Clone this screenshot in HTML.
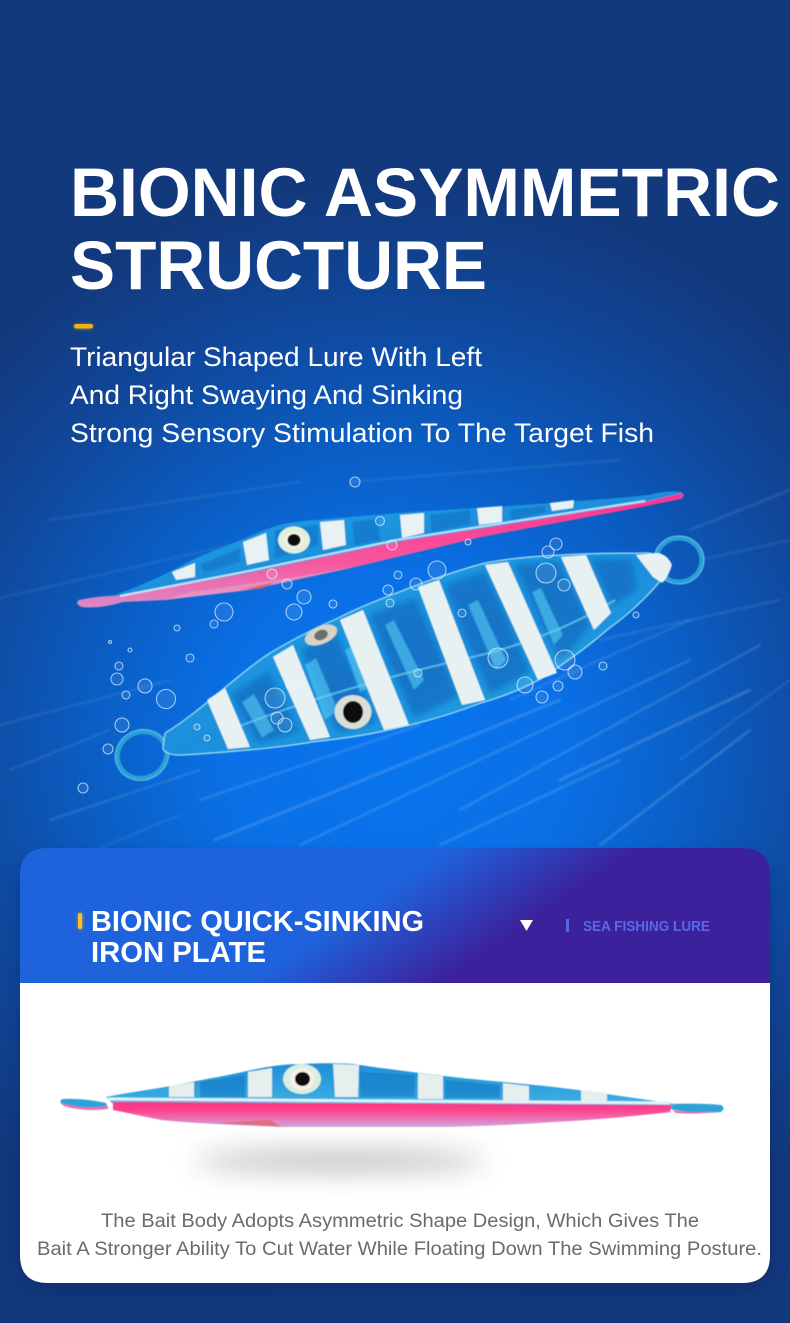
<!DOCTYPE html>
<html><head><meta charset="utf-8"><style>
html,body{margin:0;padding:0;width:790px;height:1323px;overflow:hidden;background:#13397d}
svg{display:block}
text{font-family:"Liberation Sans",sans-serif}
</style></head><body>
<svg xmlns="http://www.w3.org/2000/svg" width="790" height="1323" viewBox="0 0 790 1323">
<defs>
<radialGradient id="bg2" gradientUnits="userSpaceOnUse" cx="0" cy="0" r="1" gradientTransform="translate(395 745) scale(570 560)">
<stop offset="0" stop-color="#0875ee"/><stop offset=".3" stop-color="#0a70e6"/><stop offset=".52" stop-color="#0a5fc6"/><stop offset=".78" stop-color="#10479a"/><stop offset="1" stop-color="#13397d"/></radialGradient>
<linearGradient id="hdr" gradientUnits="userSpaceOnUse" x1="350" y1="915" x2="409" y2="1003">
<stop offset="0" stop-color="#1e63dc"/><stop offset="1" stop-color="#3b229c"/></linearGradient>
<linearGradient id="bodyB" x1="0" y1="0" x2="1" y2="1">
<stop offset="0" stop-color="#22a8e6"/><stop offset=".5" stop-color="#1a8fdc"/><stop offset="1" stop-color="#2aaae2"/></linearGradient>
<linearGradient id="bodyC" x1="0" y1="0" x2="0" y2="1">
<stop offset="0" stop-color="#1f8fd6"/><stop offset="1" stop-color="#3fb2e4"/></linearGradient>
<linearGradient id="pinkT" x1="0" y1="0" x2="0" y2="1">
<stop offset="0" stop-color="#ff2f8e"/><stop offset=".6" stop-color="#f8569e"/><stop offset="1" stop-color="#d98bc8"/></linearGradient>
<linearGradient id="pinkC" x1="0" y1="0" x2="0" y2="1">
<stop offset="0" stop-color="#ff2f84"/><stop offset=".4" stop-color="#fb4a92"/><stop offset="1" stop-color="#cfa8e0"/></linearGradient>
<filter id="b1" x="-20%" y="-300%" width="140%" height="700%"><feGaussianBlur stdDeviation="1"/></filter>
<filter id="b05" x="-5%" y="-5%" width="110%" height="110%"><feGaussianBlur stdDeviation=".6"/></filter>
<filter id="b3" x="-20%" y="-20%" width="140%" height="140%"><feGaussianBlur stdDeviation="3"/></filter>
<filter id="b8" x="-40%" y="-300%" width="180%" height="700%"><feGaussianBlur stdDeviation="13"/></filter>
<filter id="bs" x="-10%" y="-10%" width="120%" height="125%"><feGaussianBlur stdDeviation="9"/></filter>
<filter id="glow" x="-50%" y="-100%" width="200%" height="300%"><feGaussianBlur stdDeviation="1.5"/></filter>
</defs>

<rect width="790" height="1323" fill="url(#bg2)"/>

<g stroke="#fff" fill="none" filter="url(#b1)" stroke-linecap="round">
<path d="M0 598 L330 522" stroke-width="2.500" opacity=".08"/>
<path d="M50 520 L300 482" stroke-width="2.500" opacity=".08"/>
<path d="M350 482 L620 460" stroke-width="2.500" opacity=".08"/>
<path d="M690 530 L790 490" stroke-width="2.500" opacity=".11"/>
<path d="M700 560 L790 540" stroke-width="2" opacity=".1"/>
<path d="M0 725 L170 680" stroke-width="2" opacity=".1"/>
<path d="M10 770 L110 730" stroke-width="2" opacity=".12"/>
<path d="M50 820 L200 770" stroke-width="2" opacity=".14"/>
<path d="M200 800 L420 725" stroke-width="2" opacity=".16"/>
<path d="M215 840 L560 700" stroke-width="2.500" opacity=".18"/>
<path d="M300 845 L690 660" stroke-width="2" opacity=".18"/>
<path d="M460 810 L760 645" stroke-width="2" opacity=".18"/>
<path d="M510 700 L690 620" stroke-width="2" opacity=".14"/>
<path d="M440 845 L620 760" stroke-width="2" opacity=".18"/>
<path d="M560 780 L750 690" stroke-width="2.500" opacity=".2"/>
<path d="M600 845 L750 730" stroke-width="2" opacity=".22"/>
<path d="M680 760 L790 680" stroke-width="2" opacity=".12"/>
<path d="M100 848 L180 815" stroke-width="2" opacity=".1"/>
<path d="M600 640 L780 600" stroke-width="2" opacity=".12"/>
</g>

<!-- title -->
<text x="70" y="216" font-size="69" font-weight="700" fill="#fff" textLength="710" lengthAdjust="spacingAndGlyphs">BIONIC ASYMMETRIC</text>
<text x="70" y="289" font-size="69" font-weight="700" fill="#fff" textLength="417" lengthAdjust="spacingAndGlyphs">STRUCTURE</text>
<rect x="74" y="324" width="19" height="5" rx="2.500" fill="#eda90f" filter="url(#glow)" opacity=".6"/>
<rect x="74" y="324" width="19" height="4.500" rx="2.200" fill="#eeb118"/>
<text x="70" y="366" font-size="27" fill="#fff" textLength="412" lengthAdjust="spacingAndGlyphs">Triangular Shaped Lure With Left</text>
<text x="70" y="404" font-size="27" fill="#fff" textLength="393" lengthAdjust="spacingAndGlyphs">And Right Swaying And Sinking</text>
<text x="70" y="442" font-size="27" fill="#fff" textLength="584" lengthAdjust="spacingAndGlyphs">Strong Sensory Stimulation To The Target Fish</text>

<!-- top lure -->
<g filter="url(#b05)">
<path d="M115 595 C150 582 170 572 186 563 C205 553 222 548 241 540 C262 531 280 523 296 522 C330 518 365 516 397 513 C440 510 480 508 523 505 C565 502 610 499 649 495 Q668 490 681 492 Q686 495 681 499 L641 507 L481 537 L355 567 L249 590 L165 600 L123 602 Q100 609 82 607 Q74 604 79 600 Q98 596 115 595Z" fill="url(#bodyB)"/>
<g fill="#0f6cc2" opacity=".55" filter="url(#b05)">
<polygon points="352,522 378,519 380,540 355,545"/>
<polygon points="430,515 470,510 470,524 432,532"/>
<polygon points="275,530 318,525 318,545 275,558"/>
<polygon points="200,565 240,548 240,562 205,572"/>
<polygon points="510,510 545,506 545,512 512,520"/>
</g>
<path d="M79 600 Q100 596 118 596 L249 573 L397 542 L523 522 L641 503 L683 493 Q684 497 680 499 L641 507 L481 537 L355 567 L249 590 L165 600 L123 602 Q100 609 82 607 Q74 604 79 600Z" fill="url(#pinkT)"/>
<path d="M120 596 L249 571 L397 540 L523 520 L645 501" stroke="#d7f3ff" stroke-width="2" fill="none" opacity=".85"/>
<path d="M165 600 L249 590 L355 567 L290 578 L190 592Z" fill="#e9a0c8" opacity=".6"/>
<path d="M240 590 L275 582 L262 589Z" fill="#d65b58" opacity=".7"/>
<g fill="#e8f2f4">
<polygon points="172,572 195,563 195,577 176,580"/>
<polygon points="243,542 266,533 269,560 247,565"/>
<polygon points="320,522 344,520 346,545 323,550"/>
<polygon points="400,515 424,513 424,533 402,538"/>
<polygon points="477,508 502,506 502,522 479,525"/>
<polygon points="550,503 574,500 573,508 552,511"/>
</g>
<ellipse cx="294" cy="540" rx="16" ry="13.500" fill="#dff0dc"/>
<ellipse cx="294" cy="540" rx="9.500" ry="8.500" fill="#f7f1e4"/>
<ellipse cx="294" cy="540" rx="6.500" ry="6" fill="#111"/>
</g>

<!-- big lure -->
<g filter="url(#b05)">
<ellipse cx="142" cy="755" rx="25" ry="23" fill="none" stroke="#2a9fd8" stroke-width="5" transform="rotate(-25 142 755)"/>
<ellipse cx="142" cy="755" rx="27" ry="25" fill="none" stroke="#7fd4f4" stroke-width="1" opacity=".7" transform="rotate(-25 142 755)"/>
<ellipse cx="679" cy="560" rx="23" ry="22" fill="none" stroke="#2a9fd8" stroke-width="5"/>
<ellipse cx="679" cy="560" rx="25" ry="24" fill="none" stroke="#7fd4f4" stroke-width="1" opacity=".7"/>
<path d="M165 733 C200 712 240 672 270 653 C295 638 315 628 338 618 C365 604 395 594 422 583 C445 575 465 568 485 563 C510 558 535 556 561 555 C590 553 615 553 641 553 C655 552 665 557 671 565 C660 585 635 610 607 630 C590 645 565 663 544 677 C525 688 505 696 481 703 C455 713 425 722 397 728 C370 735 340 739 312 742 C290 746 270 748 249 750 C225 752 205 754 182 755 C172 756 162 752 163 747Z" fill="url(#bodyB)" stroke="#9adff6" stroke-width="1.200"/>
<g fill="#0b62ba" opacity=".6" filter="url(#b3)">
<polygon points="232,695 268,672 298,732 258,742"/>
<polygon points="302,650 335,632 376,722 338,732"/>
<polygon points="370,615 415,598 458,696 414,718"/>
<polygon points="445,585 485,572 530,672 490,694"/>
<polygon points="515,565 558,562 590,625 560,662"/>
<polygon points="592,560 632,560 636,590 612,606"/>
</g>
<g fill="#5fd4f8" opacity=".55" filter="url(#b05)">
<polygon points="305,665 316,658 338,710 325,720"/>
<polygon points="385,625 394,620 424,680 414,690"/>
<polygon points="468,605 478,600 506,660 496,670"/>
<polygon points="242,702 254,694 274,730 262,738"/>
<polygon points="532,592 541,588 563,635 554,645"/>
<polygon points="345,650 356,644 372,686 360,692"/>
</g>
<path d="M230 730 Q330 690 460 660 Q550 640 615 600" stroke="#6fd0f5" stroke-width="2" fill="none" opacity=".7"/>
<g fill="#e8f1f2">
<polygon points="207,700 225,688 250,747 228,749"/>
<polygon points="273,657 293,645 330,737 310,740"/>
<polygon points="340,620 363,610 409,725 384,730"/>
<polygon points="418,587 439,580 485,700 462,705"/>
<polygon points="485,565 508,562 557,673 538,680"/>
<polygon points="561,557 586,555 611,613 594,630"/>
<path d="M636 555 L658 553 Q668 555 672 565 Q668 578 662 583 L653 577Z"/>
</g>
<ellipse cx="353" cy="712" rx="18.500" ry="17" fill="#d8dfd6"/>
<ellipse cx="353" cy="712" rx="10" ry="11" fill="#111"/>
<ellipse cx="321" cy="635" rx="17" ry="9" fill="#d7d3c7" transform="rotate(-22 321 635)"/>
<ellipse cx="321" cy="635" rx="7" ry="5" fill="#6b6e72" transform="rotate(-22 321 635)"/>
</g>

<!-- bubbles -->
<g fill="#ffffff" fill-opacity=".08" stroke="#dff4ff" stroke-opacity=".7" stroke-width="1.100">
<circle cx="355" cy="482" r="5"/><circle cx="380" cy="521" r="4.500"/><circle cx="388" cy="590" r="5"/><circle cx="398" cy="575" r="4"/>
<circle cx="437" cy="570" r="9"/><circle cx="416" cy="584" r="6"/><circle cx="390" cy="603" r="4"/><circle cx="304" cy="597" r="7"/>
<circle cx="294" cy="612" r="8"/><circle cx="224" cy="612" r="9"/><circle cx="333" cy="604" r="4"/><circle cx="287" cy="584" r="5"/>
<circle cx="272" cy="574" r="5"/><circle cx="177" cy="628" r="3"/><circle cx="214" cy="624" r="4"/><circle cx="190" cy="658" r="4"/>
<circle cx="119" cy="666" r="4"/><circle cx="117" cy="679" r="6"/><circle cx="126" cy="695" r="4"/><circle cx="145" cy="686" r="7"/>
<circle cx="166" cy="699" r="9.500"/><circle cx="122" cy="725" r="7"/><circle cx="108" cy="749" r="5"/><circle cx="83" cy="788" r="5"/>
<circle cx="548" cy="552" r="6"/><circle cx="556" cy="544" r="6"/><circle cx="546" cy="573" r="10"/><circle cx="564" cy="585" r="6"/>
<circle cx="498" cy="658" r="10"/><circle cx="565" cy="660" r="10"/><circle cx="575" cy="672" r="7"/><circle cx="525" cy="685" r="8"/>
<circle cx="558" cy="686" r="5"/><circle cx="542" cy="697" r="6"/><circle cx="603" cy="666" r="4"/><circle cx="636" cy="615" r="3"/>
<circle cx="275" cy="698" r="10"/><circle cx="277" cy="718" r="6"/><circle cx="285" cy="725" r="7"/><circle cx="292" cy="685" r="6"/>
<circle cx="197" cy="727" r="3"/><circle cx="207" cy="738" r="3"/><circle cx="462" cy="613" r="4"/><circle cx="418" cy="673" r="4"/>
<circle cx="392" cy="545" r="5"/><circle cx="468" cy="542" r="3"/><circle cx="130" cy="650" r="2"/><circle cx="110" cy="642" r="1.500"/>
</g>

<!-- card -->
<rect x="20" y="860" width="750" height="430" rx="28" fill="#0a1f55" opacity=".4" filter="url(#bs)"/>
<path d="M48 848 H742 Q770 848 770 876 V983 H20 V876 Q20 848 48 848Z" fill="url(#hdr)"/>
<path d="M20 983 H770 V1255 Q770 1283 742 1283 H48 Q20 1283 20 1255Z" fill="#fff"/>
<rect x="78" y="912.500" width="4.500" height="17" rx="2.200" fill="#f6b60f" filter="url(#glow)" opacity=".7"/>
<rect x="78" y="913" width="4" height="16" rx="2" fill="#f9c21c"/>
<text x="91" y="931" font-size="28.500" font-weight="700" fill="#fff" textLength="333" lengthAdjust="spacingAndGlyphs">BIONIC QUICK-SINKING</text>
<text x="91" y="962" font-size="28.500" font-weight="700" fill="#fff" textLength="175" lengthAdjust="spacingAndGlyphs">IRON PLATE</text>
<polygon points="520,920 533,920 526.500,931" fill="#fff"/>
<rect x="566" y="919" width="3" height="13" fill="#5a66ea"/>
<text x="583" y="931" font-size="14.500" font-weight="700" fill="#5c67e6" textLength="127" lengthAdjust="spacingAndGlyphs">SEA FISHING LURE</text>

<!-- card lure -->
<ellipse cx="340" cy="1161" rx="145" ry="11" fill="#8b8b8b" opacity=".55" filter="url(#b8)"/>
<g filter="url(#b05)">
<path d="M62 1099 Q85 1098 106 1103 L108 1108 Q85 1112 64 1106 Q58 1102 62 1099Z" fill="#2da2d8"/>
<path d="M672 1104 Q700 1103 721 1105 Q726 1108 721 1112 Q695 1115 670 1109Z" fill="#2da2d8"/>
<path d="M61 1103 Q85 1110 108 1106 L108 1109 Q85 1112 64 1106Z" fill="#f06aa8"/>
<path d="M672 1110 Q695 1114 720 1111 Q700 1115 676 1113Z" fill="#f06aa8"/>
<path d="M106 1097 C130 1092 150 1090 176 1085 C200 1080 225 1076 252 1070 C270 1066 285 1064 302 1064 C320 1063 335 1063 353 1064 C385 1069 420 1073 453 1077 C487 1081 520 1083 554 1087 C595 1092 635 1098 675 1104 L672 1107 L113 1104Z" fill="url(#bodyC)"/>
<g fill="#0d72c2" opacity=".5">
<polygon points="360,1072 415,1075 415,1097 360,1097"/><polygon points="445,1080 500,1085 500,1098 445,1098"/><polygon points="200,1082 245,1075 245,1097 200,1097"/>
</g>
<path d="M113 1102 L672 1105 L670 1112 C630 1117 590 1120 554 1122 C510 1125 470 1127 428 1127 L282 1127 C240 1125 200 1124 161 1120 L113 1110Z" fill="url(#pinkC)"/>
<path d="M108 1099 L670 1103" stroke="#dff2fb" stroke-width="3" fill="none"/>
<path d="M215 1123 L282 1127 L270 1120Z" fill="#e0615d" opacity=".7"/>
<g fill="#e7eeee">
<polygon points="169,1086 194,1082 194,1097 169,1097"/>
<polygon points="248,1072 272,1068 272,1097 248,1097"/>
<polygon points="333,1064 359,1065 358,1097 335,1097"/>
<polygon points="418,1073 443,1076 443,1099 418,1099"/>
<polygon points="503,1083 529,1086 529,1101 503,1101"/>
<polygon points="581,1090 607,1093 607,1102 581,1102"/>
</g>
<ellipse cx="302" cy="1079" rx="19" ry="15" fill="#d9eee0"/>
<ellipse cx="302" cy="1079" rx="12" ry="11" fill="#f7f2e6"/>
<ellipse cx="302.500" cy="1079" rx="7.500" ry="7" fill="#111"/>
</g>

<text x="101" y="1227" font-size="19" fill="#6b6b6b" textLength="598" lengthAdjust="spacingAndGlyphs">The Bait Body Adopts Asymmetric Shape Design, Which Gives The</text>
<text x="37" y="1255" font-size="19" fill="#6b6b6b" textLength="725" lengthAdjust="spacingAndGlyphs">Bait A Stronger Ability To Cut Water While Floating Down The Swimming Posture.</text>
</svg>
</body></html>
